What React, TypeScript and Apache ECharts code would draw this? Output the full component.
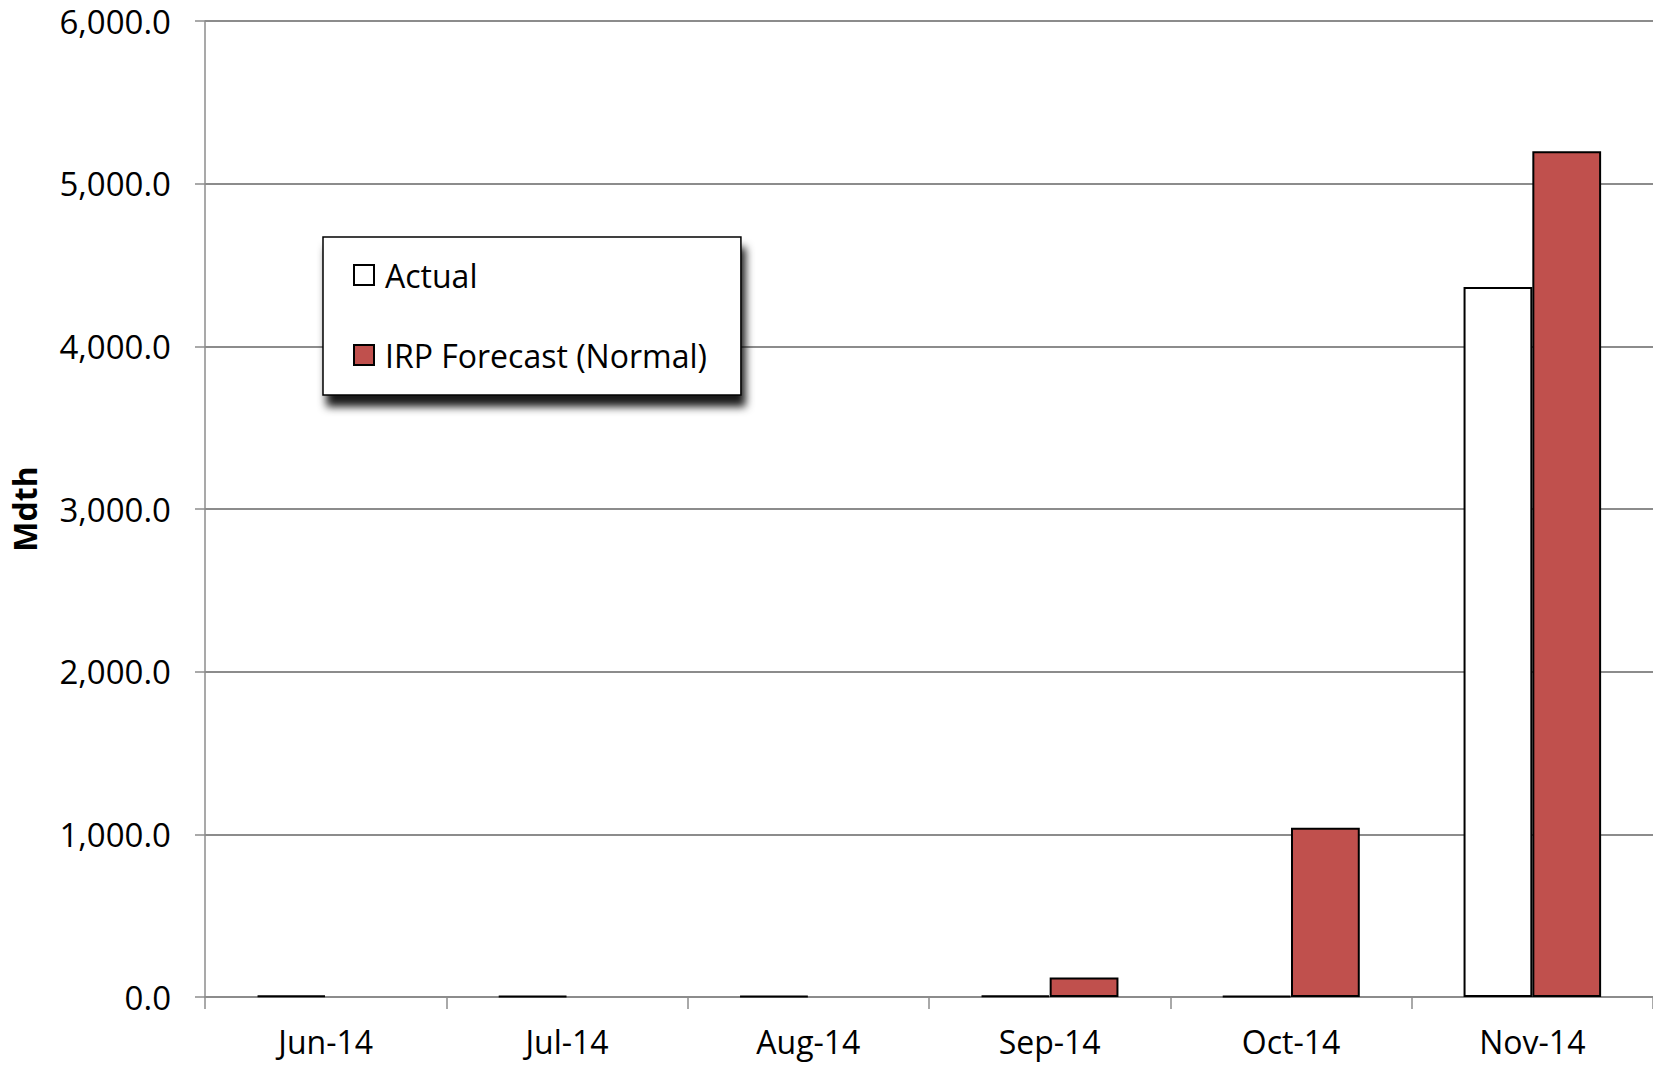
import React, { useEffect, useRef } from "react";
import * as echarts from "echarts";

const categories = ["Jun-14", "Jul-14", "Aug-14", "Sep-14", "Oct-14", "Nov-14"];
const actualValues = [8, 6, 6, 8, 6, 4365];
const forecastValues = [0, 0, 0, 120, 1040, 5200];
const seriesNames = ["Actual", "IRP Forecast (Normal)"];
const yAxisName = "Mdth";
const yMin = 0;
const yMax = 6000;
const yInterval = 1000;

const FONT = "'Open Sans', sans-serif";

function fmt(v: number): string {
  const s = v.toFixed(1);
  const [i, d] = s.split(".");
  return i.replace(/\B(?=(\d{3})+(?!\d))/g, ",") + "." + d;
}

export default function App() {
  const ref = useRef<HTMLDivElement>(null);
  useEffect(() => {
    if (!ref.current) return;
    const chart = echarts.init(ref.current, null, { renderer: "svg" });
    chart.setOption({
      animation: false,
      backgroundColor: "#ffffff",
      textStyle: { fontFamily: FONT },
      grid: { left: 198, top: 21, right: -1, bottom: 69, containLabel: false },
      legend: {
        left: 323,
        top: 237,
        orient: "vertical",
        backgroundColor: "#ffffff",
        borderColor: "#000000",
        borderWidth: 1.5,
        borderRadius: 0,
        shadowColor: "rgba(0,0,0,0.9)",
        shadowBlur: 8,
        shadowOffsetX: 4,
        shadowOffsetY: 11,
        padding: [22, 34, 24, 30],
        itemGap: 48,
        itemWidth: 20,
        itemHeight: 20,
        icon: "rect",
        data: seriesNames,
        textStyle: {
          fontFamily: FONT,
          fontSize: 32,
          color: "#000000",
          lineHeight: 32,
          padding: [0, 0, 0, 6],
        },
      },
      xAxis: {
        type: "category",
        data: categories,
        axisLine: { lineStyle: { color: "#8c8c8c", width: 2 } },
        axisTick: { show: true, length: 12, lineStyle: { color: "#8c8c8c", width: 1.5 } },
        axisLabel: { color: "#000000", fontSize: 32, lineHeight: 34, fontFamily: FONT, margin: 27 },
      },
      yAxis: {
        type: "value",
        min: yMin,
        max: yMax,
        interval: yInterval,
        name: yAxisName,
        nameLocation: "middle",
        nameGap: 165,
        nameTextStyle: { fontSize: 32, fontWeight: "bold", color: "#000000", fontFamily: FONT },
        axisLine: { show: true, lineStyle: { color: "#8c8c8c", width: 1.5 } },
        axisTick: { show: true, length: 10, lineStyle: { color: "#8c8c8c", width: 1.5 } },
        axisLabel: {
          color: "#000000",
          fontSize: 33,
          fontFamily: FONT,
          margin: 34,
          formatter: (v: number) => fmt(v),
        },
        splitLine: { show: true, lineStyle: { color: "#8c8c8c", width: 2 } },
      },
      series: [
        {
          name: seriesNames[0],
          type: "bar",
          data: actualValues,
          barWidth: "28.5%",
          barGap: "0%",
          itemStyle: { color: "#ffffff", borderColor: "#000000", borderWidth: 2 },
        },
        {
          name: seriesNames[1],
          type: "bar",
          data: forecastValues.map((v) => (v === 0 ? null : v)),
          barWidth: "28.5%",
          barGap: "0%",
          itemStyle: { color: "#C0504D", borderColor: "#000000", borderWidth: 2 },
        },
      ],
    });
    return () => chart.dispose();
  }, []);
  return (
    <div
      ref={ref}
      style={{ position: "fixed", left: 0, top: 0, width: 1653, height: 1066, background: "#fff" }}
    />
  );
}
